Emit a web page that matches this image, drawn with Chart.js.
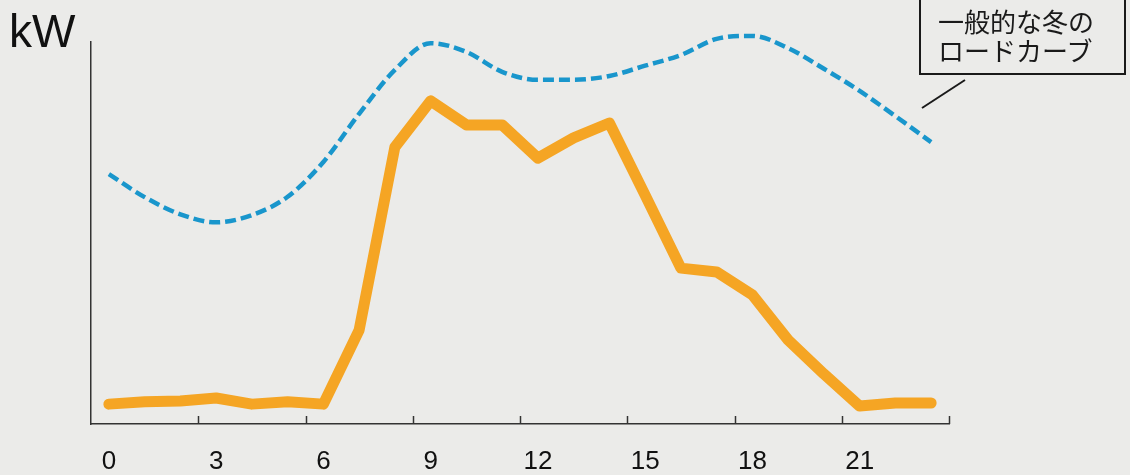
<!DOCTYPE html>
<html lang="ja">
<head>
<meta charset="utf-8">
<script src="https://cdn.jsdelivr.net/npm/chart.js@4/dist/chart.umd.min.js"></script>
<style>
  html, body { margin: 0; padding: 0; background: #ebebe9; }
  #wrap { position: relative; width: 1130px; height: 475px; overflow: hidden; }
  #chart { position: absolute; left: 0; top: 0; }
  .unit {
    position: absolute; left: 9px; top: 4px;
    font: 46px "Liberation Sans", Arial, sans-serif; color: #111;
  }
  .note {
    position: absolute; left: 919px; top: -4px; width: 186px; height: 67px;
    border: 2px solid #1a1a1a; padding: 8px 0 0 17px;
    font: 26px/29px "Noto Sans CJK JP", sans-serif; color: #1a1a1a;
  }
  svg { position: absolute; left: 0; top: 0; }
</style>
</head>
<body>
<div id="wrap">
  <canvas id="chart" width="1130" height="475"></canvas>
  <div class="unit">kW</div>
  <div class="note">一般的な冬の<br>ロードカーブ</div>
  <svg width="1130" height="475"><line x1="965" y1="80" x2="922" y2="108" stroke="#1a1a1a" stroke-width="2"/></svg>
</div>
<script>
/* Data */
const hours = [0, 1, 2, 3, 4, 5, 6, 7, 8, 9, 10, 11, 12, 13, 14, 15, 16, 17, 18, 19, 20, 21, 22, 23];
const tickLabels = [0, 3, 6, 9, 12, 15, 18, 21];
const actualLoad = [5.2, 5.8, 6.0, 6.8, 5.2, 5.8, 5.2, 24.6, 72.5, 84.6, 78.3, 78.3,
                    69.6, 74.9, 78.8, 59.9, 40.8, 39.8, 33.8, 22.0, 13.1, 4.7, 5.5, 5.5];
const winterCurve = [65.4, 59.4, 54.9, 52.8, 54.7, 59.5, 68.6, 81.2, 92.7, 99.7, 97.4, 92.2,
                     90.1, 90.1, 91.1, 93.8, 96.6, 100.8, 101.6, 98.4, 93.0, 87.2, 80.6, 73.8];

/* Upward tick marks on the x axis, every 3 hours */
const tickMarks = {
  id: "tickMarks",
  afterDraw(chart) {
    const x = chart.scales.x;
    const ctx = chart.ctx;
    ctx.save();
    ctx.strokeStyle = "#333";
    ctx.lineWidth = 1.5;
    for (let k = 3; k <= hours.length; k += 3) {
      const px = Math.round(x.getPixelForDecimal(k / hours.length)) + 0.5;
      ctx.beginPath();
      ctx.moveTo(px, x.top);
      ctx.lineTo(px, x.top - 8);
      ctx.stroke();
    }
    ctx.restore();
  }
};

new Chart(document.getElementById("chart"), {
  type: "line",
  data: {
    labels: hours,
    datasets: [
      {
        data: actualLoad,
        borderColor: "#f5a524",
        borderWidth: 11,
        borderJoinStyle: "round",
        borderCapStyle: "round",
        pointRadius: 0,
        tension: 0,
        clip: false
      },
      {
        data: winterCurve,
        borderColor: "#1996cc",
        borderWidth: 4.5,
        borderDash: [11, 5],
        pointRadius: 0,
        cubicInterpolationMode: "monotone",
        clip: false
      }
    ]
  },
  options: {
    responsive: false,
    animation: false,
    layout: { padding: { left: 89, top: 42, right: 181, bottom: 0 } },
    plugins: { legend: { display: false }, tooltip: { enabled: false } },
    scales: {
      x: {
        type: "category",
        offset: true,
        grid: { display: false, drawTicks: false },
        border: { display: true, color: "#333", width: 1.5 },
        ticks: {
          autoSkip: false,
          maxRotation: 0,
          padding: 22,
          color: "#111",
          font: { family: "'Liberation Sans', Arial, sans-serif", size: 26 },
          callback: (v, i) => tickLabels.includes(hours[i]) ? String(hours[i]) : ""
        },
        afterFit: s => { s.height = 51; }
      },
      y: {
        min: 0,
        max: 100,
        grid: { display: false, drawTicks: false },
        border: { display: true, color: "#333", width: 1.5 },
        ticks: { display: false },
        afterFit: s => { s.width = 2; }
      }
    }
  },
  plugins: [tickMarks]
});
</script>
</body>
</html>
